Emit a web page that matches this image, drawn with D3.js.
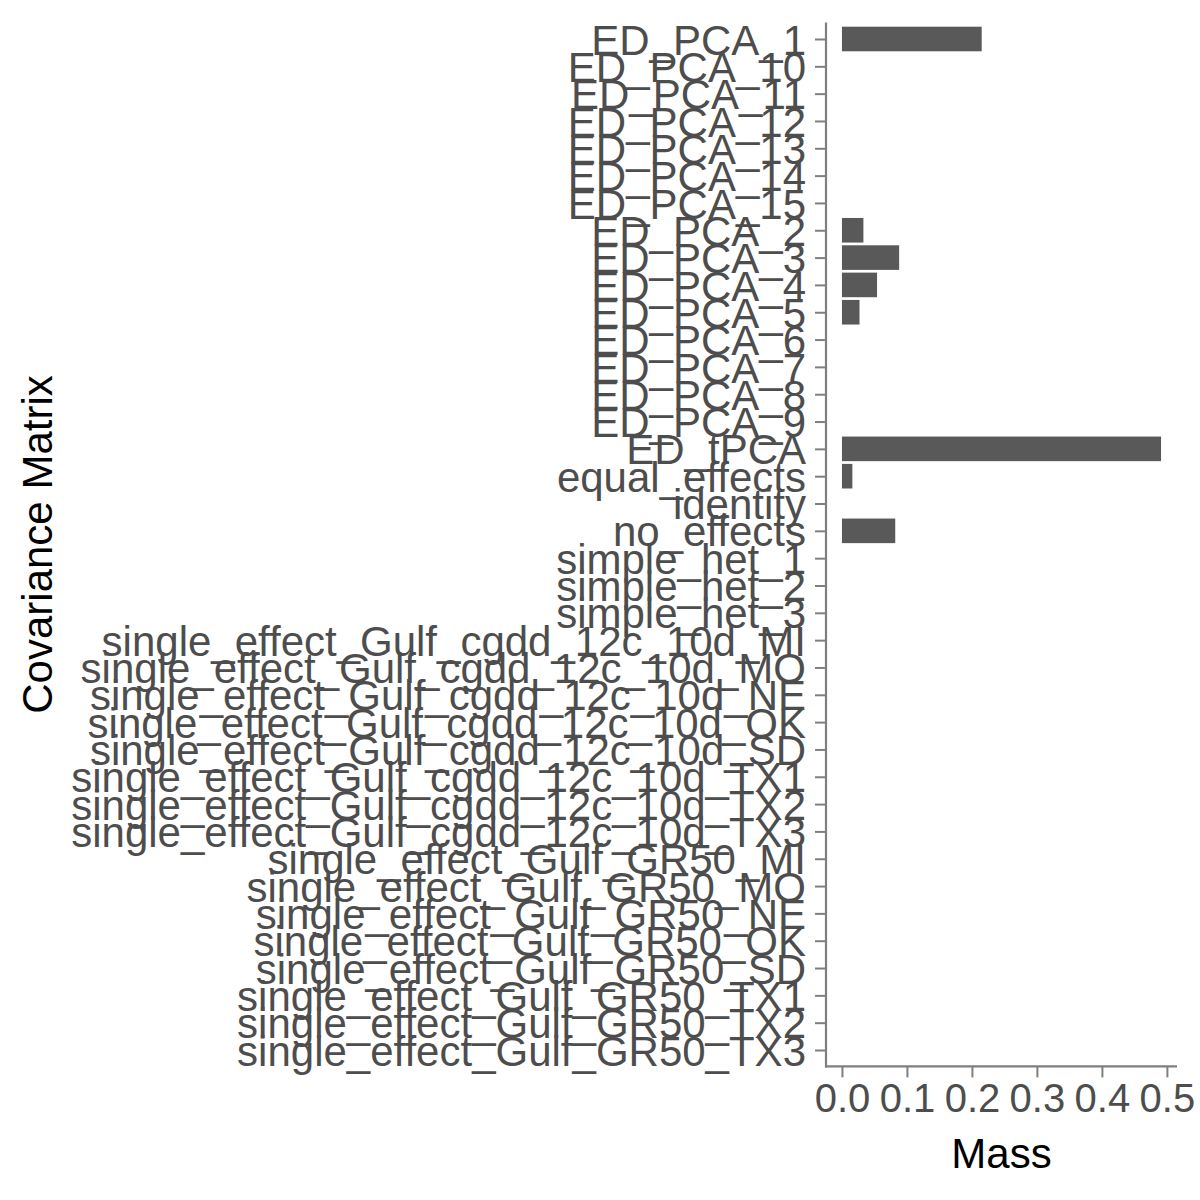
<!DOCTYPE html>
<html><head><meta charset="utf-8">
<script src="https://cdn.jsdelivr.net/npm/d3@7"></script>
<style>body{margin:0;background:#fff}svg{display:block}</style>
</head><body>
<script>
const categories = [
  "ED_PCA_1","ED_PCA_10","ED_PCA_11","ED_PCA_12","ED_PCA_13","ED_PCA_14","ED_PCA_15",
  "ED_PCA_2","ED_PCA_3","ED_PCA_4","ED_PCA_5","ED_PCA_6","ED_PCA_7","ED_PCA_8","ED_PCA_9",
  "ED_tPCA","equal_effects","identity","no_effects","simple_het_1","simple_het_2","simple_het_3",
  "single_effect_Gulf_cgdd_12c_10d_MI","single_effect_Gulf_cgdd_12c_10d_MO","single_effect_Gulf_cgdd_12c_10d_NE",
  "single_effect_Gulf_cgdd_12c_10d_OK","single_effect_Gulf_cgdd_12c_10d_SD","single_effect_Gulf_cgdd_12c_10d_TX1",
  "single_effect_Gulf_cgdd_12c_10d_TX2","single_effect_Gulf_cgdd_12c_10d_TX3",
  "single_effect_Gulf_GR50_MI","single_effect_Gulf_GR50_MO","single_effect_Gulf_GR50_NE","single_effect_Gulf_GR50_OK",
  "single_effect_Gulf_GR50_SD","single_effect_Gulf_GR50_TX1","single_effect_Gulf_GR50_TX2","single_effect_Gulf_GR50_TX3"
];
const massValues = [
  0.215,0,0,0,0,0,0,
  0.033,0.088,0.054,0.027,0,0,0,0,
  0.491,0.016,0,0.082,0,0,0,
  0,0,0,0,0,0,0,0,
  0,0,0,0,0,0,0,0
];
const xTicks = [0.0,0.1,0.2,0.3,0.4,0.5];
const xTickLabels = ["0.0","0.1","0.2","0.3","0.4","0.5"];
const xTitle = "Mass";
const yTitle = "Covariance Matrix";

const data = categories.map((c,i)=>({cat:c, v:massValues[i]}));
const W=1200,H=1200;
const panel = {left:826, right:1177, top:22.6, bottom:1066.4};
const FONT = "'Liberation Sans', Arial, sans-serif";

const svg = d3.select("body").append("svg").attr("width",W).attr("height",H);

const maxV = d3.max(massValues);
const x = d3.scaleLinear().domain([-0.05*maxV, 1.05*maxV]).range([panel.left, panel.right]);
const y = d3.scalePoint().domain(categories).range([panel.top, panel.bottom]).padding(0.6);
const step = y.step();

// bars
svg.append("g").selectAll("rect").data(data).join("rect")
  .attr("x", d=>x(0))
  .attr("y", d=>y(d.cat)-0.45*step)
  .attr("width", d=>Math.max(0, x(d.v)-x(0)))
  .attr("height", 0.9*step)
  .attr("fill","#595959");

const axisColor = "#7f7f7f";
const textColor = "#4d4d4d";

// y axis
const yAxis = svg.append("g").attr("transform",`translate(${panel.left},0)`)
  .call(d3.axisLeft(y).tickSize(11).tickPadding(9));
yAxis.select(".domain").attr("d",`M0,${panel.top}V${panel.bottom+1}`).attr("stroke",axisColor).attr("stroke-width",2.2);
yAxis.selectAll(".tick line").attr("stroke",axisColor).attr("stroke-width",2);
yAxis.selectAll(".tick text").attr("fill",textColor).attr("font-family",FONT).attr("font-size",42).attr("dy","0.36em");

// x axis
const xAxis = svg.append("g").attr("transform",`translate(0,${panel.bottom})`)
  .call(d3.axisBottom(x).tickValues(xTicks).tickFormat((d,i)=>xTickLabels[i]).tickSize(11).tickPadding(6));
xAxis.select(".domain").attr("d",`M${panel.left-1},0H${panel.right}`).attr("stroke",axisColor).attr("stroke-width",2.2);
xAxis.selectAll(".tick line").attr("stroke",axisColor).attr("stroke-width",2);
xAxis.selectAll(".tick text").attr("fill",textColor).attr("font-family",FONT).attr("font-size",40).attr("dy","0.71em");

// titles
svg.append("text").attr("x",(panel.left+panel.right)/2).attr("y",1168)
  .attr("text-anchor","middle").attr("font-family",FONT).attr("font-size",42).attr("fill","#000").text(xTitle);
svg.append("text").attr("transform",`translate(52,${(panel.top+panel.bottom)/2}) rotate(-90)`)
  .attr("text-anchor","middle").attr("font-family",FONT).attr("font-size",42).attr("fill","#000").text(yTitle);
</script>
</body></html>
